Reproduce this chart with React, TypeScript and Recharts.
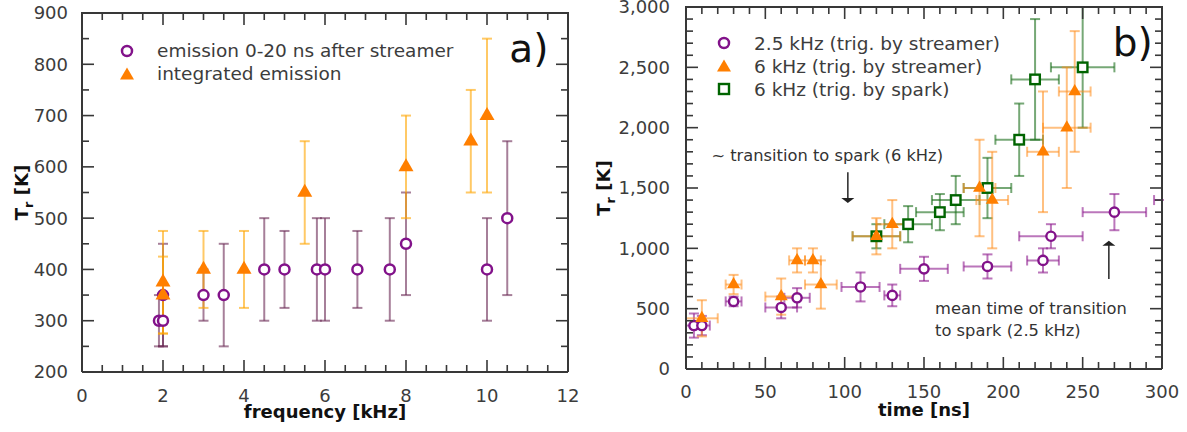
import React from 'react';
import { ScatterChart, Scatter, XAxis, YAxis, ErrorBar, ReferenceDot, ReferenceLine } from 'recharts';

const FONT = '"DejaVu Sans", Verdana, sans-serif';
const TEXT = '#3c3c3c';
const AXIS = '#383838';

// ---------- Panel a) data ----------
const freqEmission = [1.9, 2, 2, 3, 3.5, 4.5, 5, 5.8, 6, 6.8, 7.6, 8, 10, 10.5];
const trEmission = [300, 300, 350, 350, 350, 400, 400, 400, 400, 400, 400, 450, 400, 500];
const trEmissionErr = [50, 50, 100, 50, 100, 100, 75, 100, 100, 75, 100, 100, 100, 150];

const freqIntegrated = [2, 2, 3, 4, 5.5, 8, 9.6, 10];
const trIntegrated = [375, 350, 400, 400, 550, 600, 650, 700];
const trIntegratedErr = [100, 75, 75, 75, 100, 100, 100, 150];

const aXDomain = [0, 12];
const aYDomain = [200, 900];
const aXMajor = [0, 2, 4, 6, 8, 10, 12];
const aXTicks = [0, 0.5, 1, 1.5, 2, 2.5, 3, 3.5, 4, 4.5, 5, 5.5, 6, 6.5, 7, 7.5, 8, 8.5, 9, 9.5, 10, 10.5, 11, 11.5, 12];
const aYMajor = [200, 300, 400, 500, 600, 700, 800, 900];
const aYTicks = [200, 250, 300, 350, 400, 450, 500, 550, 600, 650, 700, 750, 800, 850, 900];

// ---------- Panel b) data ----------
const time25 = [5, 10, 30, 60, 70, 110, 130, 150, 190, 225, 230, 270, 320];
const tr25 = [360, 360, 560, 510, 590, 680, 610, 830, 850, 900, 1100, 1300, 1400];
const time25Err = [5, 5, 5, 10, 8, 12, 5, 15, 15, 10, 20, 20, 25];
const tr25Err = [100, 80, 40, 90, 80, 120, 90, 100, 100, 100, 100, 150, 100];

const time6s = [10, 30, 60, 70, 80, 85, 120, 130, 185, 193, 225, 240, 245];
const tr6s = [420, 700, 600, 900, 900, 700, 1100, 1200, 1500, 1400, 1800, 2000, 2300];
const time6sErr = [10, 5, 10, 5, 5, 10, 15, 10, 10, 10, 10, 15, 10];
const tr6sErr = [150, 80, 150, 100, 100, 200, 150, 200, 400, 400, 500, 500, 500];

const time6k = [120, 140, 160, 170, 190, 210, 220, 250];
const tr6k = [1100, 1200, 1300, 1400, 1500, 1900, 2400, 2500];
const time6kErr = [15, 15, 15, 15, 15, 15, 15, 20];
const tr6kErr = [100, 150, 150, 200, 250, 300, 500, 500];

const bXDomain = [0, 300];
const bYDomain = [0, 3000];
const bXMajor = [0, 50, 100, 150, 200, 250, 300];
const bXTicks = [0, 10, 20, 30, 40, 50, 60, 70, 80, 90, 100, 110, 120, 130, 140, 150, 160, 170, 180, 190, 200, 210, 220, 230, 240, 250, 260, 270, 280, 290, 300];
const bYMajor = [0, 500, 1000, 1500, 2000, 2500, 3000];
const bYTicks = [0, 100, 200, 300, 400, 500, 600, 700, 800, 900, 1000, 1100, 1200, 1300, 1400, 1500, 1600, 1700, 1800, 1900, 2000, 2100, 2200, 2300, 2400, 2500, 2600, 2700, 2800, 2900, 3000];

// ---------- rows ----------
const rowsEmission = freqEmission.map((x, i) => ({ x, y: trEmission[i], ey: trEmissionErr[i] }));
const rowsIntegrated = freqIntegrated.map((x, i) => ({ x, y: trIntegrated[i], ey: trIntegratedErr[i] }));
const rows25 = time25.map((x, i) => ({ x, y: tr25[i], ex: time25Err[i], ey: tr25Err[i] }));
const rows6s = time6s.map((x, i) => ({ x, y: tr6s[i], ex: time6sErr[i], ey: tr6sErr[i] }));
const rows6k = time6k.map((x, i) => ({ x, y: tr6k[i], ex: time6kErr[i], ey: tr6kErr[i] }));

// ---------- colours ----------
const PURPLE = '#82128a';
const ORANGE = '#ff7f00';
const GREEN = '#006400';

// ---------- layout (shared by the charts and the frame overlay) ----------
const LAYOUT_A = { width: 590, height: 432, margin: { top: 13, right: 22, bottom: 0, left: 22 }, yAxisWidth: 60, xAxisHeight: 60 };
const LAYOUT_B = { width: 597, height: 432, margin: { top: 7, right: 25, bottom: 0, left: 16 }, yAxisWidth: 80, xAxisHeight: 63 };

// ---------- tick labels (axis) ----------
function tickLabel(side: string, majors: number[], fmt: (v: number) => string, gap: number) {
  return function TickText(props: any) {
    const { x, y, payload } = props;
    const v = payload.value;
    if (!majors.includes(v)) return <g />;
    if (side === 'bottom')
      return (
        <text x={x} y={y + gap} textAnchor="middle" fill={TEXT} stroke="none" fontSize={18} fontFamily={FONT}>
          {fmt(v)}
        </text>
      );
    return (
      <text x={x - gap} y={y} dy="0.36em" textAnchor="end" fill={TEXT} stroke="none" fontSize={18} fontFamily={FONT}>
        {fmt(v)}
      </text>
    );
  };
}

// ---------- frame + inward ticks on all four sides (overlay) ----------
function FrameOverlay({ layout, xd, yd, xTicks, xMajor, yTicks, yMajor }: any) {
  const left = layout.margin.left + layout.yAxisWidth;
  const right = layout.width - layout.margin.right;
  const top = layout.margin.top;
  const bottom = layout.height - layout.margin.bottom - layout.xAxisHeight;
  const sx = (v: number) => left + ((v - xd[0]) / (xd[1] - xd[0])) * (right - left);
  const sy = (v: number) => bottom - ((v - yd[0]) / (yd[1] - yd[0])) * (bottom - top);
  return (
    <svg width={layout.width} height={layout.height} style={{ position: 'absolute', left: 0, top: 0, pointerEvents: 'none' }}>
      <g stroke={AXIS} strokeWidth={1.6}>
        {xTicks.map((v: number) => {
          const len = xMajor.includes(v) ? 12 : 7;
          const x = sx(v);
          return (
            <g key={`x${v}`}>
              <line x1={x} y1={bottom} x2={x} y2={bottom - len} />
              <line x1={x} y1={top} x2={x} y2={top + len} />
            </g>
          );
        })}
        {yTicks.map((v: number) => {
          const len = yMajor.includes(v) ? 12 : 7;
          const y = sy(v);
          return (
            <g key={`y${v}`}>
              <line x1={left} y1={y} x2={left + len} y2={y} />
              <line x1={right} y1={y} x2={right - len} y2={y} />
            </g>
          );
        })}
      </g>
      <line x1={left - 1} y1={top} x2={right + 1} y2={top} stroke={AXIS} strokeWidth={2} />
      <line x1={right} y1={top} x2={right} y2={bottom} stroke={AXIS} strokeWidth={2} />
    </svg>
  );
}

const plain = (v: number) => String(v);
const comma = (v: number) => v.toLocaleString('en-US');

function xTitle(text: string, dy: number) {
  return (props: any) => {
    const vb = props.viewBox || {};
    return (
      <text x={vb.x + vb.width / 2} y={vb.y + dy} textAnchor="middle" fontFamily={FONT} fontWeight="bold" fontSize={18} fill="#111">
        {text}
      </text>
    );
  };
}

function yTitle(dx: number) {
  return (props: any) => {
    const vb = props.viewBox || {};
    const cx = vb.x + dx;
    const cy = vb.y + vb.height / 2;
    return (
      <text x={cx} y={cy} transform={`rotate(-90 ${cx} ${cy})`} textAnchor="middle" fontFamily={FONT} fontWeight="bold" fontSize={18} fill="#111">
        <tspan>T</tspan>
        <tspan dy={5} fontSize={13}>r</tspan>
        <tspan dy={-5}> [K]</tspan>
      </text>
    );
  };
}

// ---------- marker shapes ----------
const circleShape = (color: string, r: number, sw: number) => (p: any) =>
  <circle cx={p.cx} cy={p.cy} r={r} fill="#fff" stroke={color} strokeWidth={sw} />;
const triShape = (color: string, s: number) => (p: any) => {
  const h = s * 0.866;
  const { cx, cy } = p;
  return <polygon points={`${cx},${cy - (2 * h) / 3} ${cx - s / 2},${cy + h / 3} ${cx + s / 2},${cy + h / 3}`} fill={color} />;
};
const squareShape = (color: string, s: number, sw: number) => (p: any) =>
  <rect x={p.cx - s / 2} y={p.cy - s / 2} width={s} height={s} fill="#fff" stroke={color} strokeWidth={sw} />;

const textShape = (text: string, size: number, color: string = '#333') => (p: any) =>
  <text x={p.cx} y={p.cy} fontSize={size} fontFamily={FONT} fill={color} textAnchor="start">{text}</text>;

const arrowShape = (p: any) => {
  const { x1, y1, x2, y2 } = p;
  const dir = y2 > y1 ? 1 : -1;
  return (
    <g>
      <line x1={x1} y1={y1} x2={x2} y2={y2 - dir * 3} stroke="#333" strokeWidth={1.6} />
      <polygon points={`${x2},${y2} ${x2 - 6.5},${y2 - dir * 5} ${x2 + 6.5},${y2 - dir * 5}`} fill="#222" />
    </g>
  );
};

// ---------- legend (HTML overlay) ----------
type LegendItem = { label: string; marker: 'circle' | 'triangle' | 'square'; color: string };
function LegendBox({ items, left, top }: { items: LegendItem[]; left: number; top: number }) {
  return (
    <div style={{ position: 'absolute', left, top, fontFamily: FONT, fontSize: 18.5, color: TEXT, lineHeight: '23px' }}>
      {items.map((it) => (
        <div key={it.label} style={{ display: 'flex', alignItems: 'center', height: 23, whiteSpace: 'nowrap' }}>
          <svg width={20} height={20} style={{ display: 'block' }}>
            {it.marker === 'circle' && <circle cx={10} cy={10} r={5} fill="#fff" stroke={it.color} strokeWidth={2.5} />}
            {it.marker === 'triangle' && <polygon points="10,3.5 3,15.5 17,15.5" fill={it.color} />}
            {it.marker === 'square' && <rect x={5} y={5} width={10} height={10} fill="#fff" stroke={it.color} strokeWidth={2.4} />}
          </svg>
          <span style={{ marginLeft: 20 }}>{it.label}</span>
        </div>
      ))}
    </div>
  );
}

const legendA: LegendItem[] = [
  { label: 'emission 0-20 ns after streamer', marker: 'circle', color: PURPLE },
  { label: 'integrated emission', marker: 'triangle', color: ORANGE },
];
const legendB: LegendItem[] = [
  { label: '2.5 kHz (trig. by streamer)', marker: 'circle', color: PURPLE },
  { label: '6 kHz (trig. by streamer)', marker: 'triangle', color: ORANGE },
  { label: '6 kHz (trig. by spark)', marker: 'square', color: GREEN },
];

function PanelA() {
  const L = LAYOUT_A;
  return (
    <ScatterChart width={L.width} height={L.height} margin={L.margin}>
      <XAxis xAxisId="b" type="number" dataKey="x" domain={aXDomain} allowDataOverflow ticks={aXTicks} interval={0}
        tickSize={0} tickMargin={0} tickLine={false} height={L.xAxisHeight} axisLine={{ stroke: AXIS, strokeWidth: 2 }}
        tick={tickLabel('bottom', aXMajor, plain, 30)} label={{ content: xTitle('frequency [kHz]', 46) }} />
      <YAxis yAxisId="l" type="number" dataKey="y" domain={aYDomain} allowDataOverflow ticks={aYTicks} interval={0}
        tickSize={0} tickMargin={0} tickLine={false} width={L.yAxisWidth} axisLine={{ stroke: AXIS, strokeWidth: 2 }}
        tick={tickLabel('left', aYMajor, plain, 14)} label={{ content: yTitle(6) }} />
      <Scatter name="emission 0-20 ns after streamer" data={rowsEmission} xAxisId="b" yAxisId="l" isAnimationActive={false}
        shape={circleShape(PURPLE, 5, 2.5)}>
        <ErrorBar dataKey="ey" direction="y" width={5} stroke="#6a2a55" strokeOpacity={0.6} strokeWidth={2} />
      </Scatter>
      <Scatter name="integrated emission" data={rowsIntegrated} xAxisId="b" yAxisId="l" isAnimationActive={false}
        shape={triShape(ORANGE, 15)}>
        <ErrorBar dataKey="ey" direction="y" width={5} stroke="#ffa500" strokeOpacity={0.6} strokeWidth={2} />
      </Scatter>
      <ReferenceDot xAxisId="b" yAxisId="l" x={10.55} y={805} r={0} shape={textShape('a)', 39, '#111')} />
    </ScatterChart>
  );
}

function PanelB() {
  const L = LAYOUT_B;
  return (
    <ScatterChart width={L.width} height={L.height} margin={L.margin}>
      <XAxis xAxisId="b" type="number" dataKey="x" domain={bXDomain} allowDataOverflow ticks={bXTicks} interval={0}
        tickSize={0} tickMargin={0} tickLine={false} height={L.xAxisHeight} axisLine={{ stroke: AXIS, strokeWidth: 2 }}
        tick={tickLabel('bottom', bXMajor, plain, 29)} label={{ content: xTitle('time [ns]', 47) }} />
      <YAxis yAxisId="l" type="number" dataKey="y" domain={bYDomain} allowDataOverflow ticks={bYTicks} interval={0}
        tickSize={0} tickMargin={0} tickLine={false} width={L.yAxisWidth} axisLine={{ stroke: AXIS, strokeWidth: 2 }}
        tick={tickLabel('left', bYMajor, comma, 16)} label={{ content: yTitle(4) }} />
      <Scatter name="2.5 kHz (trig. by streamer)" data={rows25} xAxisId="b" yAxisId="l" isAnimationActive={false}
        shape={circleShape(PURPLE, 4.6, 2.4)}>
        <ErrorBar dataKey="ex" direction="x" width={5} stroke="#8e1a8e" strokeOpacity={0.6} strokeWidth={2} />
        <ErrorBar dataKey="ey" direction="y" width={5} stroke="#8e1a8e" strokeOpacity={0.6} strokeWidth={2} />
      </Scatter>
      <Scatter name="6 kHz (trig. by spark)" data={rows6k} xAxisId="b" yAxisId="l" isAnimationActive={false}
        shape={squareShape(GREEN, 9.5, 2.4)}>
        <ErrorBar dataKey="ex" direction="x" width={5} stroke="#1a6e1a" strokeOpacity={0.6} strokeWidth={2} />
        <ErrorBar dataKey="ey" direction="y" width={5} stroke="#1a6e1a" strokeOpacity={0.6} strokeWidth={2} />
      </Scatter>
      <Scatter name="6 kHz (trig. by streamer)" data={rows6s} xAxisId="b" yAxisId="l" isAnimationActive={false}
        shape={triShape(ORANGE, 13)}>
        <ErrorBar dataKey="ex" direction="x" width={5} stroke="#ff8c1a" strokeOpacity={0.55} strokeWidth={2} />
        <ErrorBar dataKey="ey" direction="y" width={5} stroke="#ff8c1a" strokeOpacity={0.55} strokeWidth={2} />
      </Scatter>
      <ReferenceDot xAxisId="b" yAxisId="l" x={16} y={1722} r={0} shape={textShape('~ transition to spark (6 kHz)', 16.3)} />
      <ReferenceLine xAxisId="b" yAxisId="l" segment={[{ x: 102, y: 1630 }, { x: 102, y: 1375 }]} shape={arrowShape} />
      <ReferenceLine xAxisId="b" yAxisId="l" segment={[{ x: 266.5, y: 745 }, { x: 266.5, y: 1063 }]} shape={arrowShape} />
      <ReferenceDot xAxisId="b" yAxisId="l" x={157} y={456} r={0} shape={textShape('mean time of transition', 16.3)} />
      <ReferenceDot xAxisId="b" yAxisId="l" x={157} y={270} r={0} shape={textShape('to spark (2.5 kHz)', 16.3)} />
      <ReferenceDot xAxisId="b" yAxisId="l" x={269} y={2593} r={0} shape={textShape('b)', 39, '#111')} />
    </ScatterChart>
  );
}

export default function App() {
  // panel b: the plot region is clipped at its right frame so marks lying beyond 300 ns are cut there
  const clipB = 'polygon(0 0, 574px 0, 574px 372px, 597px 372px, 597px 432px, 0 432px)';
  return (
    <div style={{ position: 'absolute', left: 0, top: 0, width: 1187, height: 432, background: '#fff', overflow: 'hidden' }}>
      <div style={{ position: 'absolute', left: 0, top: 0, width: 590, height: 432 }}>
        <PanelA />
        <FrameOverlay layout={LAYOUT_A} xd={aXDomain} yd={aYDomain} xTicks={aXTicks} xMajor={aXMajor} yTicks={aYTicks} yMajor={aYMajor} />
        <LegendBox items={legendA} left={117} top={39} />
      </div>
      <div style={{ position: 'absolute', left: 590, top: 0, width: 597, height: 432 }}>
        <div style={{ position: 'absolute', left: 0, top: 0, width: 597, height: 432, clipPath: clipB }}>
          <PanelB />
        </div>
        <FrameOverlay layout={LAYOUT_B} xd={bXDomain} yd={bYDomain} xTicks={bXTicks} xMajor={bXMajor} yTicks={bYTicks} yMajor={bYMajor} />
        <LegendBox items={legendB} left={124} top={31.5} />
      </div>
    </div>
  );
}
